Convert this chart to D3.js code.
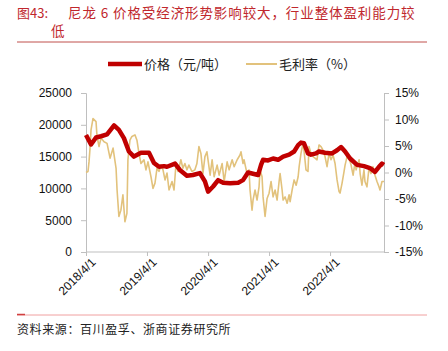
<!DOCTYPE html>
<html>
<head>
<meta charset="utf-8">
<script src="https://cdn.jsdelivr.net/npm/d3@7"></script>
<style>
    body { margin: 0; background: #fff; }
</style>
</head>
<body>
<div id="canvas"></div>
<script>
"use strict"

/*** DATA ***/
let priceDates = ["2018-04-01","2018-05-01","2018-05-31","2018-06-30","2018-08-05","2018-09-16","2018-10-15","2018-11-14","2018-12-14","2019-01-13","2019-02-24","2019-04-13","2019-05-13","2019-06-12","2019-07-12","2019-07-30","2019-09-16","2019-10-15","2019-11-26","2020-01-01","2020-02-12","2020-03-13","2020-04-01","2020-05-01","2020-05-31","2020-06-30","2020-08-11","2020-09-28","2020-10-27","2020-11-26","2020-12-26","2021-01-25","2021-02-12","2021-02-24","2021-03-26","2021-04-25","2021-05-25","2021-06-24","2021-07-30","2021-08-29","2021-09-22","2021-10-09","2021-10-27","2021-11-20","2021-12-08","2022-01-07","2022-01-25","2022-03-02","2022-04-13","2022-05-13","2022-06-06","2022-06-30","2022-07-30","2022-09-10","2022-10-21","2022-11-26","2022-12-26","2023-01-19","2023-02-06","2023-02-18"]
let priceValues = [18400,16900,18000,18200,18500,19900,19200,17900,15800,15000,15600,15600,14000,13400,13500,13400,13900,12900,12000,12100,12400,11100,9500,10300,11300,10900,10800,10900,11300,12500,12300,12100,13700,14500,14400,14700,14500,15000,15300,15800,16800,17200,17100,15500,15300,15500,15800,15600,15500,16000,16500,15800,14700,13700,13500,13200,12600,13400,13900,13700]

let marginDates = ["2018-04-01","2018-04-13","2018-04-19","2018-04-25","2018-05-01","2018-05-13","2018-05-31","2018-06-06","2018-06-18","2018-06-30","2018-07-18","2018-08-05","2018-08-23","2018-09-10","2018-09-28","2018-10-04","2018-10-15","2018-10-27","2018-11-08","2018-11-20","2018-12-02","2018-12-08","2018-12-20","2019-01-01","2019-01-19","2019-01-31","2019-02-12","2019-02-24","2019-03-14","2019-03-26",
    "2019-04-07","2019-04-25","2019-05-07","2019-05-19","2019-05-31","2019-06-12","2019-06-24","2019-07-06","2019-07-18","2019-07-30","2019-08-11","2019-08-29","2019-09-10","2019-09-22","2019-10-04","2019-10-21","2019-11-02","2019-11-14","2019-11-26","2019-12-08","2019-12-26","2020-01-13","2020-01-25","2020-02-06","2020-02-18","2020-03-01","2020-03-13","2020-03-25",
    "2020-04-13","2020-04-25","2020-05-07","2020-05-25","2020-06-06","2020-06-24","2020-07-06","2020-07-24","2020-08-05","2020-08-23","2020-09-04","2020-09-22","2020-10-09","2020-10-15","2020-10-27","2020-11-02","2020-11-20","2020-12-02","2020-12-08","2020-12-20","2020-12-26","2021-01-07","2021-01-19","2021-01-31","2021-02-06","2021-02-18","2021-02-24","2021-03-08","2021-03-20",
    "2021-04-01","2021-04-13","2021-04-25","2021-05-07","2021-05-19","2021-05-31","2021-06-06","2021-06-18","2021-06-24","2021-07-06","2021-07-18","2021-07-30","2021-08-05","2021-08-17","2021-08-29","2021-09-10","2021-09-22","2021-09-28","2021-10-09","2021-10-21","2021-10-27","2021-11-08","2021-11-20","2021-11-26","2021-12-08","2021-12-20","2022-01-01","2022-01-13","2022-01-25","2022-02-06","2022-02-18","2022-03-02","2022-03-14","2022-03-26",
    "2022-04-07","2022-04-19","2022-05-01","2022-05-13","2022-05-25","2022-05-31","2022-06-12","2022-06-24","2022-06-30","2022-07-12","2022-07-24","2022-08-05","2022-08-17","2022-08-29","2022-09-04","2022-09-22","2022-09-28","2022-10-09","2022-10-21","2022-10-27","2022-11-08","2022-11-20","2022-12-02","2022-12-14","2022-12-26","2023-01-07","2023-01-19","2023-01-25","2023-02-06","2023-02-18"]
let marginValues = [0.0,0.2,2.0,4.5,8.0,10.2,9.6,6.8,4.9,6.5,5.8,5.5,2.7,4.6,0.8,-3.3,-8.3,-7.1,-4.2,-9.3,-7.7,2.4,6.1,6.8,7.1,6.1,3.6,1.7,2.4,0.5,
    2.0,-0.8,-3.0,-2.0,0.8,0.2,1.4,0.5,-1.4,-0.1,-3.3,-1.7,-3.3,1.7,0.2,2.4,0.8,1.7,0.5,1.4,0.2,0.5,1.7,4.9,3.6,-0.2,3.0,3.9,
    -0.5,2.4,-0.8,1.4,-0.5,1.7,-1.7,2.0,0.5,2.4,1.1,2.4,3.3,3.9,1.7,2.4,-0.2,0.5,-3.3,-7.1,-5.2,-3.3,-5.2,-2.7,0.5,-0.8,-4.6,-8.3,-4.9,
    -3.9,-1.7,-4.6,-3.3,-5.2,-1.7,-0.2,-3.3,-5.2,-4.6,-5.8,-4.2,-5.5,-3.3,-1.4,-2.4,-0.8,1.1,3.6,5.5,4.2,0.5,0.2,4.9,3.6,3.0,2.7,2.4,5.2,4.9,4.2,3.0,1.1,3.6,
    2.4,3.3,1.7,-1.4,-3.6,-3.9,-2.0,0.2,1.4,3.0,2.7,1.4,-0.5,2.0,0.5,2.4,-0.2,-2.4,0.5,-1.7,-2.7,0.8,-0.2,1.1,-0.5,-1.7,-2.7,-3.3,-1.7,-1.7]

let xTickDates = ["2018-04-01","2019-04-01","2020-04-01","2021-04-01","2022-04-01"]
let leftTicks = [0, 5000, 10000, 15000, 20000, 25000]
let rightTicks = [-15, -10, -5, 0, 5, 10, 15]
let seriesNames = ["价格（元/吨）", "毛利率（%）"]

/*** CANVAS SETUP ***/
let svgWidth = 448
let svgHeight = 351

let margin = { top: 93, right: 64, bottom: 99, left: 86 }

let red = "#C00000"
let gold = "#E2C27C"
let axisGrey = "#BFBFBF"

let svg = d3.select("#canvas")
    .append("svg")
    .attr("width", svgWidth)
    .attr("height", svgHeight)
    .style("font-family", "'Liberation Sans', Arial, sans-serif")

let parse = d3.timeParse("%Y-%m-%d")

let xScale = d3.scaleTime()
    .domain([parse("2018-04-01"), parse("2023-02-18")])
    .range([margin.left, svgWidth - margin.right])

let yLeft = d3.scaleLinear()
    .domain([0, 25000])
    .range([svgHeight - margin.bottom, margin.top])

let yRight = d3.scaleLinear()
    .domain([-15, 15])
    .range([svgHeight - margin.bottom, margin.top])

/*** TITLE ***/
svg.append("text")
    .attr("x", 17).attr("y", 18)
    .attr("fill", "#C0272D")
    .attr("font-size", "13px")
    .style("font-family", "'Noto Sans CJK SC', sans-serif")
    .text("图43:")

svg.append("text")
    .attr("x", 68).attr("y", 18)
    .attr("fill", "#C0272D")
    .attr("font-size", "13.5px")
    .attr("letter-spacing", "0.9px")
    .style("font-family", "'Noto Sans CJK SC', sans-serif")
    .text("尼龙 6 价格受经济形势影响较大，行业整体盈利能力较")

svg.append("text")
    .attr("x", 51).attr("y", 36)
    .attr("fill", "#C0272D")
    .attr("font-size", "13.5px")
    .style("font-family", "'Noto Sans CJK SC', sans-serif")
    .text("低")

svg.append("line")
    .attr("x1", 17).attr("x2", 427)
    .attr("y1", 42).attr("y2", 42)
    .attr("stroke", "#C0504D")
    .attr("stroke-width", 1)

/*** LEGEND ***/
let legend = svg.append("g")

legend.append("line")
    .attr("x1", 108).attr("x2", 142).attr("y1", 64).attr("y2", 64)
    .attr("stroke", red).attr("stroke-width", 4.5)

legend.append("text")
    .attr("x", 144).attr("y", 68.5)
    .attr("font-size", "13px")
    .style("font-family", "'Noto Sans CJK SC', sans-serif")
    .attr("fill", "#222")
    .text(seriesNames[0])

legend.append("line")
    .attr("x1", 246).attr("x2", 277).attr("y1", 64).attr("y2", 64)
    .attr("stroke", gold).attr("stroke-width", 2)

legend.append("text")
    .attr("x", 279).attr("y", 68.5)
    .attr("font-size", "13px")
    .style("font-family", "'Noto Sans CJK SC', sans-serif")
    .attr("fill", "#222")
    .text(seriesNames[1])

/*** AXES ***/
let leftAxis = svg.append("g")
    .attr("transform", "translate(" + margin.left + ",0)")
    .call(d3.axisLeft(yLeft).tickValues(leftTicks).tickSize(5).tickPadding(9).tickFormat(d3.format("d")))

let rightAxis = svg.append("g")
    .attr("transform", "translate(" + (svgWidth - margin.right) + ",0)")
    .call(d3.axisRight(yRight).tickValues(rightTicks).tickSize(5).tickPadding(6).tickFormat(function (d) { return d + "%" }))

let bottomAxis = svg.append("g")
    .attr("transform", "translate(0," + (svgHeight - margin.bottom) + ")")
    .call(d3.axisBottom(xScale).tickValues(xTickDates.map(parse)).tickSize(4).tickFormat(d3.timeFormat("%Y/%-m/%-d")))

bottomAxis.selectAll("text")
    .attr("text-anchor", "end")
    .attr("dy", "0")
    .attr("transform", "translate(5,6) rotate(-45)")

svg.selectAll(".domain").attr("stroke", axisGrey)
svg.selectAll(".tick line").attr("stroke", axisGrey)
svg.selectAll(".tick text")
    .attr("font-size", "12px")
    .attr("fill", "#111")
    .style("font-family", "'Liberation Sans', Arial, sans-serif")

// stretch bottom axis line over full plot width
bottomAxis.select(".domain").attr("d", "M" + margin.left + ",0H" + (svgWidth - margin.right))

/*** LINES ***/
let priceData = priceDates.map(function (d, i) { return { date: parse(d), value: priceValues[i] } })
let marginData = marginDates.map(function (d, i) { return { date: parse(d), value: marginValues[i] } })

svg.append("path")
    .datum(marginData)
    .attr("fill", "none")
    .attr("stroke", gold)
    .attr("stroke-width", 1.6)
    .attr("stroke-linejoin", "round")
    .attr("d", d3.line()
        .x(function (d) { return xScale(d.date) })
        .y(function (d) { return yRight(d.value) }))

svg.append("path")
    .datum(priceData)
    .attr("fill", "none")
    .attr("stroke", red)
    .attr("stroke-width", 4.5)
    .attr("stroke-linejoin", "round")
    .attr("d", d3.line()
        .x(function (d) { return xScale(d.date) })
        .y(function (d) { return yLeft(d.value) }))

/*** FOOTER ***/
svg.append("line")
    .attr("x1", 17).attr("x2", 427)
    .attr("y1", 315).attr("y2", 315)
    .attr("stroke", "#F0A0A0")
    .attr("stroke-width", 1)

svg.append("line")
    .attr("x1", 17).attr("x2", 25)
    .attr("y1", 314.5).attr("y2", 314.5)
    .attr("stroke", "#D04040")
    .attr("stroke-width", 1.5)

svg.append("text")
    .attr("x", 17).attr("y", 334)
    .attr("font-size", "12px")
    .attr("letter-spacing", "0.6px")
    .attr("fill", "#222")
    .style("font-family", "'Noto Sans CJK SC', sans-serif")
    .text("资料来源：百川盈孚、浙商证券研究所")
</script>
</body>
</html>
